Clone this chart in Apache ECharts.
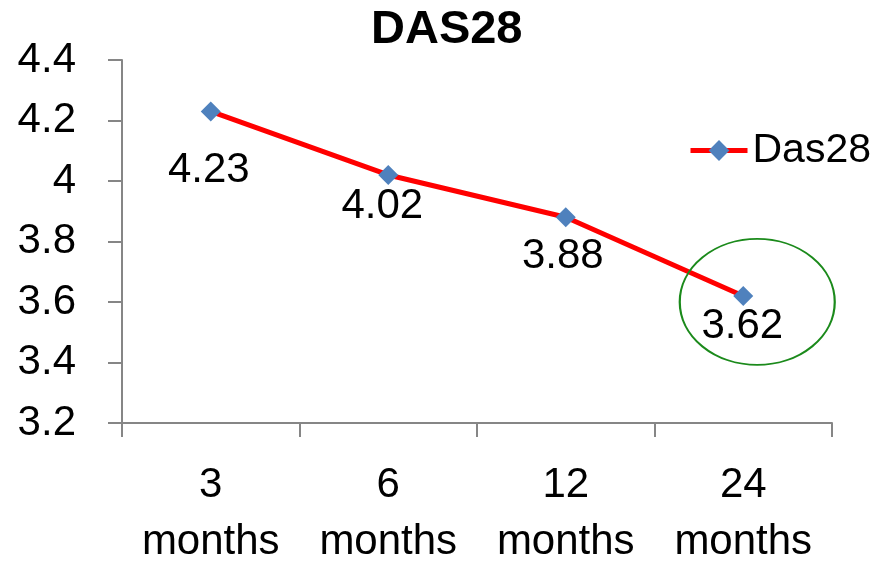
<!DOCTYPE html>
<html>
<head>
<meta charset="utf-8">
<script src="https://cdn.jsdelivr.net/npm/echarts@6/dist/echarts.min.js"></script>
<style>html,body{margin:0;padding:0;background:#fff}#c{width:872px;height:563px}</style>
</head>
<body>
<div id="c"></div>
<script>
var categories = ['3\nmonths', '6\nmonths', '12\nmonths', '24\nmonths'];
var das28 = [4.23, 4.02, 3.88, 3.62];
var yTicks = { min: 3.2, max: 4.4, interval: 0.2 };
var highlightIndex = 3;

// label nudges (px) as placed in the reference
var labelNudges = [[-2, 28], [-6, 0], [-3, 8], [-1, -1]];

var FONT = '"Liberation Sans", Arial, sans-serif';
var seriesData = das28.map(function (v, i) {
  return { value: v, label: { offset: labelNudges[i] } };
});

var chart = echarts.init(document.getElementById('c'), null, { renderer: 'canvas' });
chart.setOption({
  animation: false,
  backgroundColor: '#ffffff',
  title: {
    text: 'DAS28',
    left: 371,
    top: 7,
    padding: 0,
    textStyle: { fontFamily: FONT, fontSize: 47, fontWeight: 'bold', color: '#000' }
  },
  legend: {
    left: 688,
    top: 130,
    padding: 0,
    itemWidth: 57,
    itemHeight: 26,
    itemGap: 0,
    data: ['Das28'],
    lineStyle: { width: 5 },
    textStyle: { fontFamily: FONT, fontSize: 41, color: '#000', padding: [0, 0, 0, 0] }
  },
  grid: { left: 122, right: 40, top: 60, bottom: 140, containLabel: false, outerBoundsMode: 'none' },
  xAxis: {
    type: 'category',
    data: categories,
    boundaryGap: true,
    axisLine: { lineStyle: { color: '#868686', width: 2 } },
    axisTick: { show: true, inside: false, length: 14, alignWithLabel: false, lineStyle: { color: '#868686', width: 2 } },
    axisLabel: { fontFamily: FONT, fontSize: 42, color: '#000', margin: 34, lineHeight: 57, interval: 0 },
    splitLine: { show: false }
  },
  yAxis: {
    type: 'value',
    min: yTicks.min,
    max: yTicks.max,
    interval: yTicks.interval,
    axisLine: { show: true, lineStyle: { color: '#868686', width: 2 } },
    axisTick: { show: true, inside: false, length: 14, lineStyle: { color: '#868686', width: 2 } },
    axisLabel: {
      fontFamily: FONT, fontSize: 42, color: '#000', margin: 46,
      formatter: function (v) { return String(Math.round(v * 10) / 10); }
    },
    splitLine: { show: false }
  },
  series: [{
    name: 'Das28',
    type: 'line',
    data: seriesData,
    symbol: 'diamond',
    symbolSize: 20,
    lineStyle: { color: '#FF0000', width: 5 },
    itemStyle: { color: '#4F81BD' },
    label: {
      show: true,
      position: 'bottom',
      distance: 0,
      fontFamily: FONT,
      fontSize: 42,
      color: '#000',
      formatter: function (p) { return p.value.toFixed(2); }
    },
    markPoint: {
      silent: true,
      symbol: 'circle',
      symbolSize: [155, 126],
      symbolOffset: [14, 6],
      itemStyle: { color: 'rgba(0,0,0,0)', borderColor: '#1B8A1B', borderWidth: 2 },
      label: { show: false },
      data: [{ coord: [highlightIndex, das28[highlightIndex]] }]
    }
  }]
});
</script>
</body>
</html>
